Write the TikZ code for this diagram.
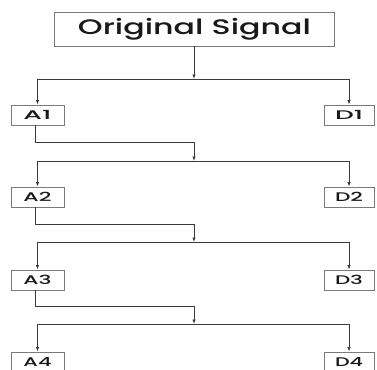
\documentclass[tikz,border=0pt]{standalone}
\usepackage{fontspec}
\setmainfont{DejaVu Sans}
\newfontfamily\medsans[UprightFont={* Medium}]{Poppins}
\usetikzlibrary{arrows.meta}
\definecolor{linec}{HTML}{3A3A3A}
\definecolor{boxc}{HTML}{7A7A7A}
\tikzset{
  box/.style={draw=boxc, line width=0.9pt, fill=white, inner sep=0pt, text=black!90},
  abox/.style={box, minimum width=53pt, minimum height=20pt, font=\medsans\fontsize{12.5}{12.5}\selectfont},
  dbox/.style={box, minimum width=50pt, minimum height=20pt, font=\medsans\fontsize{12.5}{12.5}\selectfont},
  conn/.style={draw=linec, line width=0.8pt},
  arr/.style={conn, -{Latex[length=4.5pt,width=3.5pt]}},
}
\newcommand{\wide}[2]{\resizebox{#1}{\height}{#2}}
\begin{document}
\begin{tikzpicture}[x=1pt,y=-1pt]
\useasboundingbox (0,0) rectangle (377,369);
\node[box, minimum width=280pt, minimum height=34pt, font=\medsans\fontsize{21}{21}\selectfont] (T) at (194.5,29) {\wide{233pt}{Original Signal}};

\node[abox] (A1) at (37.5,115) {\wide{28pt}{A1}};
\node[dbox] (D1) at (349,115) {\wide{28pt}{D1}};
\node[abox] (A2) at (37.5,197) {\wide{28pt}{A2}};
\node[dbox] (D2) at (349,197) {\wide{28pt}{D2}};
\node[abox] (A3) at (37.5,280) {\wide{28pt}{A3}};
\node[dbox] (D3) at (349,280) {\wide{28pt}{D3}};
\node[abox] (A4) at (37.5,362) {\wide{28pt}{A4}};
\node[dbox] (D4) at (349,362) {\wide{28pt}{D4}};

\coordinate (s1) at (194,79);
\coordinate (m1) at (194,142);
\coordinate (s2) at (194,161);
\coordinate (m2) at (194,224);
\coordinate (s3) at (194,242);
\coordinate (m3) at (194,306);
\coordinate (s4) at (194,324);

\draw[arr] (T.south -| s1) -- (s1);
\draw[arr] (s1) -| (A1.north);
\draw[arr] (s1) -| (D1.north);
\draw[conn] ([xshift=-2pt]A1.south) |- (m1);
\draw[arr] (m1) -- (s2);
\draw[arr] (s2) -| (A2.north);
\draw[arr] (s2) -| (D2.north);
\draw[conn] ([xshift=-2pt]A2.south) |- (m2);
\draw[arr] (m2) -- (s3);
\draw[arr] (s3) -| (A3.north);
\draw[arr] (s3) -| (D3.north);
\draw[conn] ([xshift=-2pt]A3.south) |- (m3);
\draw[arr] (m3) -- (s4);
\draw[arr] (s4) -| (A4.north);
\draw[arr] (s4) -| (D4.north);
\end{tikzpicture}
\end{document}
